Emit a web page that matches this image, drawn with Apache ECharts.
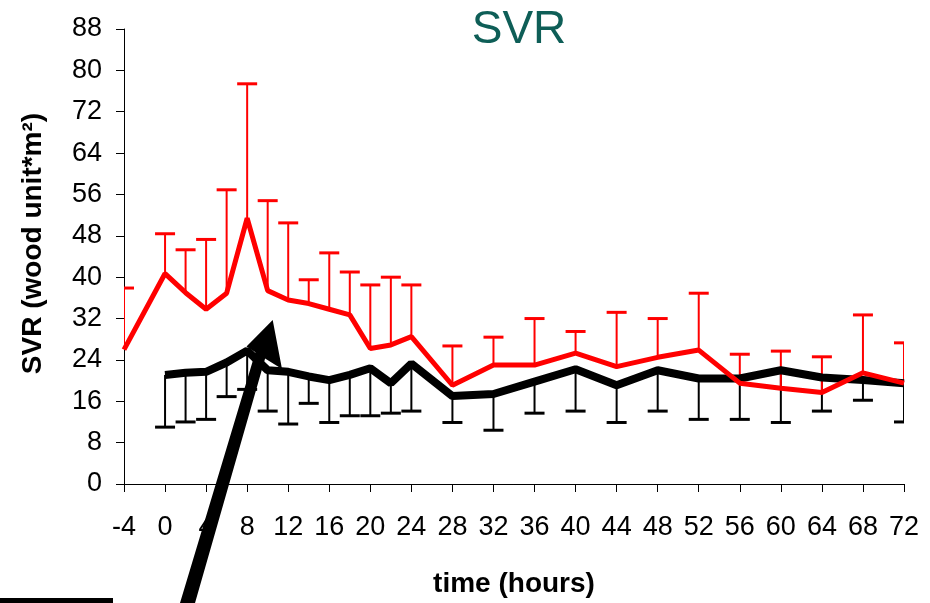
<!DOCTYPE html>
<html>
<head>
<meta charset="utf-8">
<script src="https://cdn.jsdelivr.net/npm/echarts@6/dist/echarts.min.js"></script>
<style>
  html, body { margin: 0; padding: 0; background: #fff; }
  #chart { width: 930px; height: 603px; }
</style>
</head>
<body>
<div id="chart"></div>
<script>
// Sampling times (hours) for each group
const redTimes   = [-4, 0, 2, 4, 6, 8, 10, 12, 14, 16, 18, 20, 22, 24, 28, 32, 36, 40, 44, 48, 52, 56, 60, 64, 68, 72];
const blackTimes = [0, 2, 4, 6, 8, 10, 12, 14, 16, 18, 20, 22, 24, 28, 32, 36, 40, 44, 48, 52, 56, 60, 64, 68, 72];

// Mean SVR per time point
const redMean   = [26, 40.7, 37, 33.8, 36.9, 51.4, 37.4, 35.6, 34.9, 33.8, 32.7, 26.2, 26.9, 28.5, 19.1, 23, 23, 25.3, 22.7, 24.5, 25.9, 19.5, 18.5, 17.7, 21.5, 19.5];
const blackMean = [21.1, 21.5, 21.7, 23.5, 25.8, 22, 21.7, 20.8, 20.1, 21.1, 22.4, 19.5, 23.3, 17, 17.4, 19.8, 22.2, 19.1, 22, 20.4, 20.4, 22, 20.6, 20.1, 19.5];

// Standard deviations (red drawn upward, black drawn downward)
const redSD   = [11.9, 7.7, 8.3, 13.5, 20, 26, 17.4, 14.9, 4.6, 10.9, 8.3, 12.3, 13.1, 10, 7.6, 5.4, 9, 4.2, 10.5, 7.5, 11, 5.6, 7.2, 6.9, 11.2, 7.8];
const blackSD = [10.1, 9.5, 9.2, 6.6, 7.5, 7.9, 10.1, 5.2, 8.2, 7.9, 9.2, 5.8, 9.2, 5.1, 7, 6.1, 8.1, 7.2, 7.9, 7.9, 7.9, 10.1, 6.5, 3.9, 7.5];

// Axis ticks
const xMin = -4, xMax = 72, xStep = 4;
const yMin = 0, yMax = 88, yStep = 8;

const FONT = '"Liberation Sans", Arial, sans-serif';

function pairs(times, vals) {
  return times.map((t, i) => [t, vals[i]]);
}

function errorSeries(times, means, sds, dir, color) {
  return {
    type: 'custom',
    clip: true,
    silent: true,
    data: times.map((t, i) => [t, means[i], means[i] + dir * sds[i]]),
    encode: { x: 0, y: [1, 2] },
    renderItem: function (params, api) {
      const p0 = api.coord([api.value(0), api.value(1)]);
      const p1 = api.coord([api.value(0), api.value(2)]);
      const cs = params.coordSys;
      // keep the caps inside the plotting area
      const cx1 = Math.max(p1[0] - 10, cs.x);
      const cx2 = Math.min(p1[0] + 10, cs.x + cs.width);
      return {
        type: 'group',
        children: [
          { type: 'line', shape: { x1: p0[0], y1: p0[1], x2: p1[0], y2: p1[1] },
            style: { stroke: color, lineWidth: 2 } },
          { type: 'line', shape: { x1: cx1, y1: p1[1], x2: cx2, y2: p1[1] },
            style: { stroke: color, lineWidth: 3 } }
        ]
      };
    }
  };
}

const chart = echarts.init(document.getElementById('chart'), null, { renderer: 'canvas' });

// Arrow pointing into the plot, and the short rule at the lower left
const arrowPoints = [[272.7, 320], [282, 369], [265.1, 358.4], [193, 610], [177.9, 610], [255.4, 352.2], [246.5, 346.5]];

chart.setOption({
  animation: false,
  backgroundColor: '#fff',
  textStyle: { fontFamily: FONT },
  title: {
    text: 'SVR',
    left: 514,
    textAlign: 'center',
    top: 2,
    textStyle: { fontFamily: FONT, fontSize: 46, fontWeight: 'normal', color: '#0e5e57' }
  },
  grid: { left: 124, right: 26, top: 29, bottom: 118 },
  xAxis: {
    type: 'value',
    min: xMin, max: xMax, interval: xStep,
    name: 'time (hours)',
    nameLocation: 'middle',
    nameGap: 86,
    nameTextStyle: { fontFamily: FONT, fontSize: 28, fontWeight: 'bold', color: '#000' },
    axisLine: { onZero: false, lineStyle: { color: '#000', width: 1 } },
    axisTick: { show: true, length: 8, lineStyle: { color: '#000' } },
    axisLabel: { fontFamily: FONT, fontSize: 27, color: '#000', margin: 30 },
    splitLine: { show: false }
  },
  yAxis: {
    type: 'value',
    min: yMin, max: yMax, interval: yStep,
    name: 'SVR (wood unit*m²)',
    nameLocation: 'middle',
    nameGap: 77,
    nameTextStyle: { fontFamily: FONT, fontSize: 28, fontWeight: 'bold', color: '#000', padding: [0, 0, 0, 26] },
    axisLine: { show: true, onZero: false, lineStyle: { color: '#000', width: 1 } },
    axisTick: { show: true, length: 8, lineStyle: { color: '#000' } },
    axisLabel: { fontFamily: FONT, fontSize: 27, color: '#000', margin: 22 },
    splitLine: { show: false }
  },
  series: [
    Object.assign(errorSeries(blackTimes, blackMean, blackSD, -1, '#000'), { z: 2 }),
    Object.assign(errorSeries(redTimes, redMean, redSD, 1, '#ff0000'), { z: 2 }),
    {
      type: 'line', z: 3,
      data: pairs(blackTimes, blackMean),
      showSymbol: false, symbol: 'none',
      lineStyle: { color: '#000', width: 8 },
      itemStyle: { color: '#000' }
    },
    {
      type: 'line', z: 4,
      data: pairs(redTimes, redMean),
      showSymbol: false, symbol: 'none',
      lineStyle: { color: '#ff0000', width: 5 },
      itemStyle: { color: '#ff0000' }
    }
  ],
  graphic: [
    { type: 'polygon', z: 100, shape: { points: arrowPoints }, style: { fill: '#000' } },
    { type: 'rect', z: 100, shape: { x: 0, y: 598, width: 113, height: 6 }, style: { fill: '#000' } }
  ]
});
</script>
</body>
</html>
